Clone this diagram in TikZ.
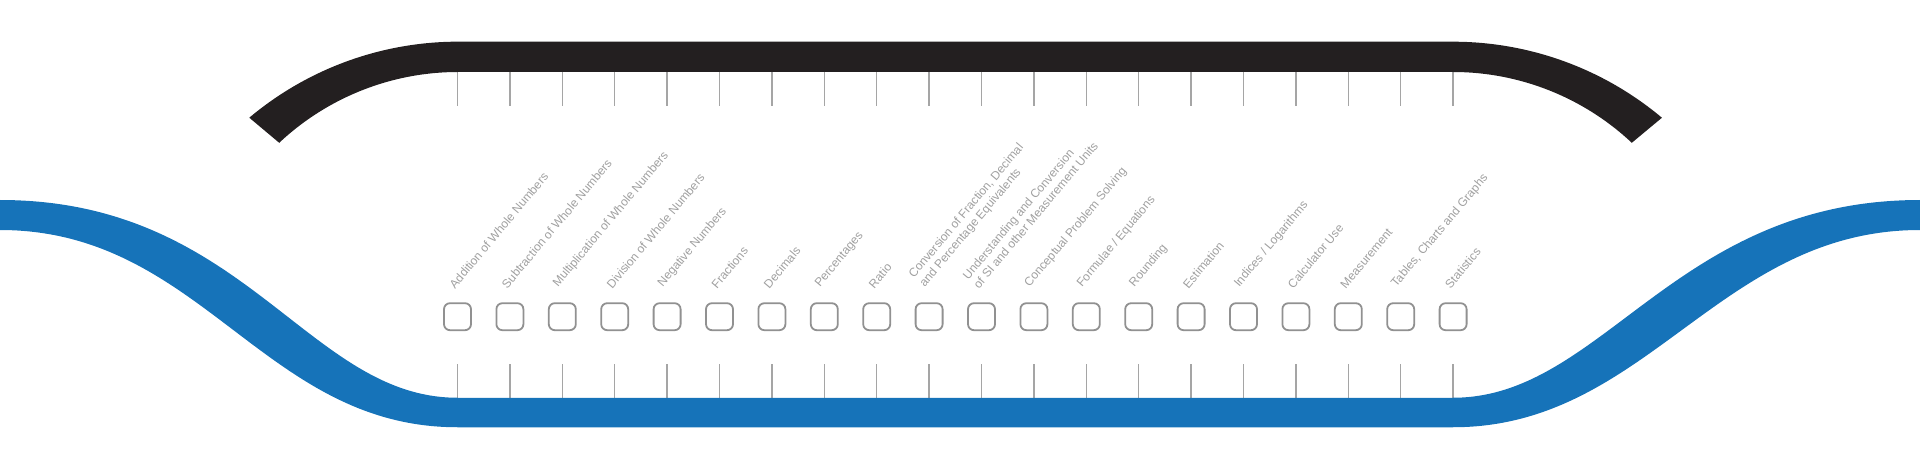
\documentclass[tikz,border=0pt]{standalone}
\usepackage{fontspec}
\setmainfont{Liberation Sans}
\definecolor{bandblue}{RGB}{22,115,185}
\definecolor{bandblack}{RGB}{35,31,32}
\definecolor{tickgray}{RGB}{165,165,165}
\definecolor{boxgray}{RGB}{145,145,145}
\definecolor{textgray}{RGB}{160,160,160}
\begin{document}
\begin{tikzpicture}[x=1pt,y=1pt,
	topic/.style={draw=boxgray,line width=1.8pt,rounded corners=6pt,minimum width=27pt,minimum height=27pt,inner sep=0pt},
	topictext/.style={rotate=50,anchor=south west,inner sep=0pt,text=textgray,font=\fontsize{12}{14}\selectfont,align=left},
	tick/.style={tickgray,line width=1.3pt}]
	\useasboundingbox (0,0) rectangle (1920,464);
	\foreach \t [count=\i, evaluate=\i as \x using 457.5+52.4*(\i-1)] in {Addition of Whole Numbers, Subtraction of Whole Numbers, Multiplication of Whole Numbers, Division of Whole Numbers, Negative Numbers, Fractions, Decimals, Percentages, Ratio, {Conversion of Fraction, Decimal\\and Percentage Equivalents}, {Understanding and Conversion\\of SI and other Measurement Units}, Conceptual Problem Solving, Formulae / Equations, Rounding, Estimation, Indices / Logarithms, Calculator Use, Measurement, {Tables, Charts and Graphs}, Statistics} {
		\node[topic] (b\i) at (\x,147.3) {};
		\node[topictext] (t\i) at ([shift={(-2.3,12.8)}]b\i.north) {\t};
		\draw[tick] (b\i |- 0,400) -- (b\i |- 0,358);
		\draw[tick] (b\i |- 0,60) -- (b\i |- 0,100);
	}
	\fill[bandblack] (249.3,346.3) arc[start angle=130,end angle=90,radius=325] -- (1453,422.3) arc[start angle=90,end angle=50,radius=325] -- (1631.8,321.2) arc[start angle=46.8,end angle=90,radius=261.2] -- (458,392) arc[start angle=90,end angle=133.2,radius=261.2] -- cycle;
	\fill[bandblue] (-5,264) -- (0,264) .. controls (245.3,264) and (307.5,66.25) .. (457.5,66.25) -- (1453,66.25) .. controls (1603,66.25) and (1674.7,264) .. (1920,264) -- (1925,264) -- (1925,234) -- (1920,234) .. controls (1718.7,234) and (1647,36.75) .. (1453,36.75) -- (457.5,36.75) .. controls (263.5,36.75) and (201.3,234) .. (0,234) -- (-5,234) -- cycle;
\end{tikzpicture}
\end{document}
